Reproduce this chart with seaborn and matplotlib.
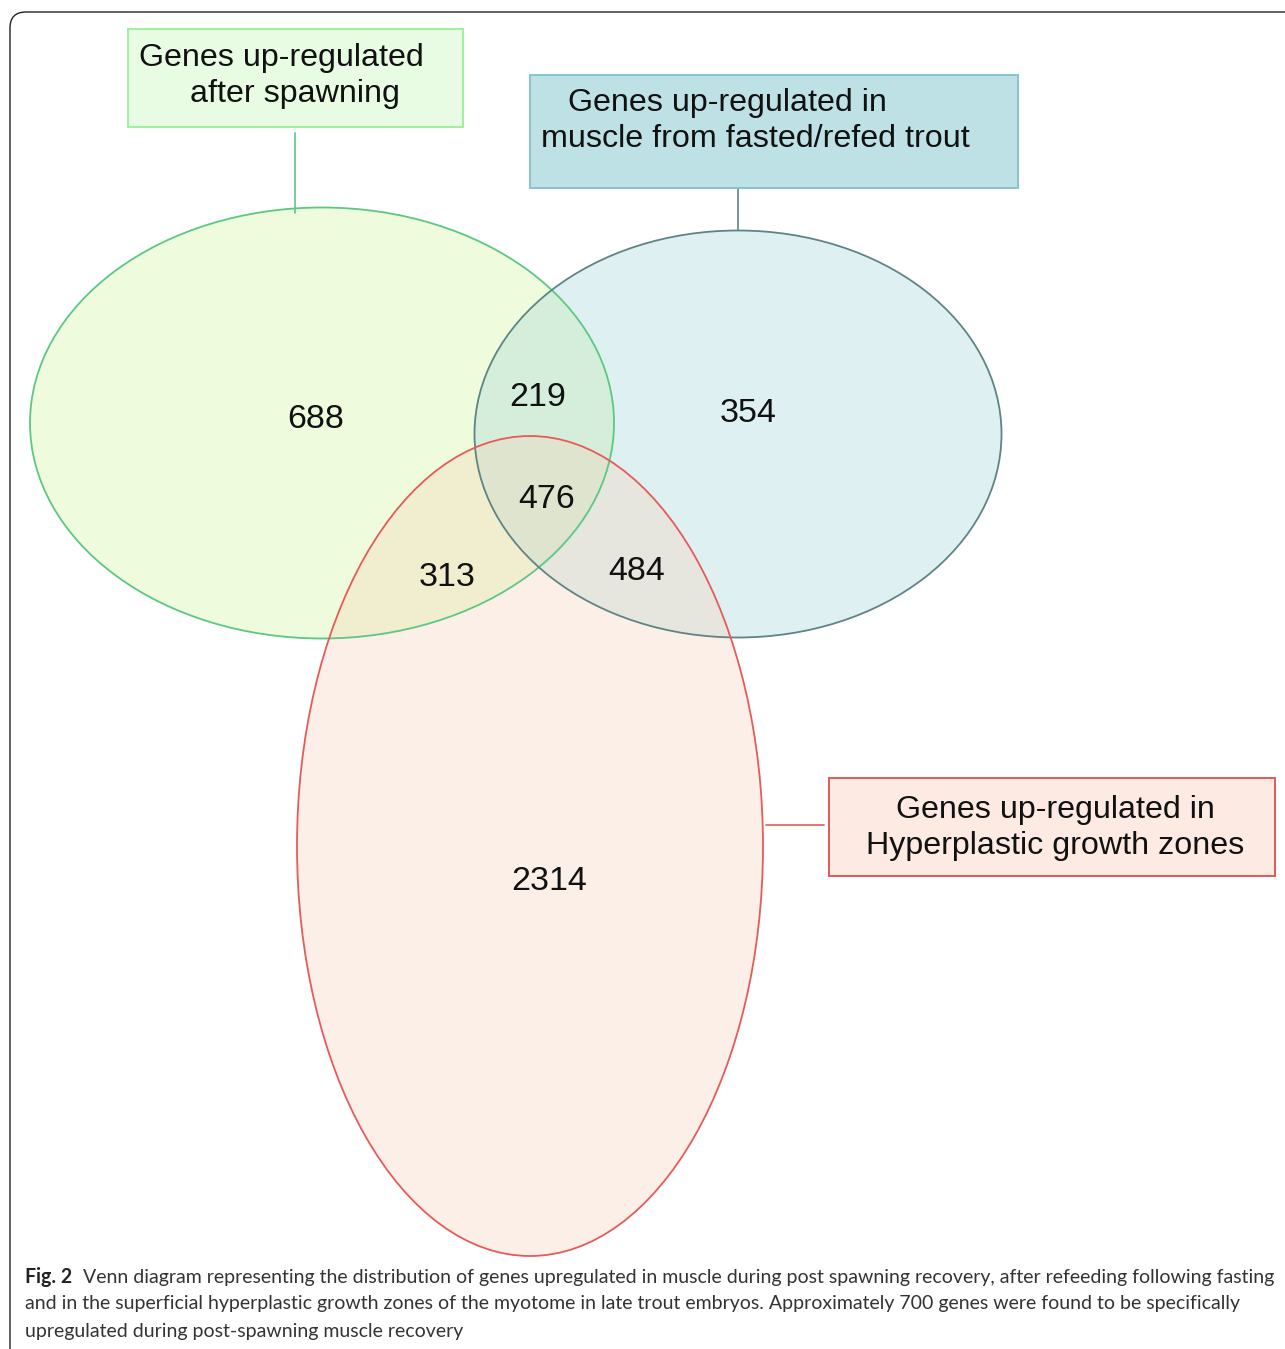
import matplotlib
matplotlib.use("Agg")
import matplotlib.pyplot as plt
import seaborn as sns
from matplotlib.patches import Ellipse, Rectangle, FancyBboxPatch

sns.set_theme(style="white")
plt.rcParams['font.family'] = ['Liberation Sans', 'DejaVu Sans']

# Data
set_names = ["Genes up-regulated\n   after spawning",
             "   Genes up-regulated in\nmuscle from fasted/refed trout",
             "Genes up-regulated in\nHyperplastic growth zones"]
region_names = ["S only", "S&F", "F only", "S&F&H", "S&H", "F&H", "H only"]
region_counts = [688, 219, 354, 476, 313, 484, 2314]

caption_bold = "Fig. 2"
caption_lines = [
    "Venn diagram representing the distribution of genes upregulated in muscle during post spawning recovery, after refeeding following fasting",
    "and in the superficial hyperplastic growth zones of the myotome in late trout embryos. Approximately 700 genes were found to be specifically",
    "upregulated during post-spawning muscle recovery",
]

# Layout (pixel coords, y down)
ellipses = [  # cx, cy, w, h
    (322, 423, 584, 431),
    (738, 434, 527, 407),
    (530, 846, 466, 820),
]
fill_cols = ["#c8f58f", "#98d0d8", "#f8cdb0"]
edge_cols = ["#5cc882", "#5f8484", "#e85a5a"]
fill_alpha = 0.3

region_xy = [(316, 420), (538, 397), (748, 414), (547, 499),
             (447, 577), (637, 572), (549, 882)]

boxes = [  # x0, y0, x1, y1
    (128, 29, 463, 127),
    (530, 75, 1018, 188),
    (829, 778, 1275, 876),
]
box_fill = ["#e8fce4", "#bde1e5", "#fdebe3"]
box_edge = ["#9ef09e", "#86c4cc", "#e05a5a"]
box_text_xy = [(281, 76, "center"), (541, 121, "left"), (1055, 828, "center")]
connectors = [((295, 295), (133, 213)), ((738, 738), (188, 230)), ((766, 824), (825, 825))]

fig = plt.figure(figsize=(12.85, 13.49), dpi=100)
ax = fig.add_axes([0, 0, 1, 1])
ax.set_xlim(0, 1285)
ax.set_ylim(1349, 0)
ax.axis("off")

# page frame
frame = FancyBboxPatch((10, 12), 1400, 1500, boxstyle="round,pad=0,rounding_size=16",
                       fill=False, edgecolor="#222222", linewidth=1.0, zorder=0)
ax.add_patch(frame)

for (cx, cy, w, h), fc in zip(ellipses, fill_cols):
    ax.add_patch(Ellipse((cx, cy), w, h, facecolor=fc, alpha=fill_alpha,
                         edgecolor="none", zorder=1))
for (cx, cy, w, h), ec in zip(ellipses, edge_cols):
    ax.add_patch(Ellipse((cx, cy), w, h, facecolor="none", edgecolor=ec,
                         linewidth=1.3, zorder=2))

for (x, y), n in zip(region_xy, region_counts):
    ax.text(x, y, str(n), fontsize=24.5, ha="center", va="center", color="#111111", zorder=3)

for (x0, y0, x1, y1), fc, ec in zip(boxes, box_fill, box_edge):
    ax.add_patch(Rectangle((x0, y0), x1 - x0, y1 - y0, facecolor=fc, edgecolor=ec,
                           linewidth=1.4, zorder=3))
for (x, y, ha), name in zip(box_text_xy, set_names):
    ax.text(x, y, name, fontsize=23.2, ha=ha, va="center", color="#111111",
            linespacing=1.3, zorder=4)
for (xs, ys), ec in zip(connectors, edge_cols):
    ax.plot(xs, ys, color=ec, linewidth=1.2, zorder=2)

# caption, sized so the first line ends where the reference does
cap_font = ['Lato', 'Liberation Sans', 'DejaVu Sans']
cap_size = 16
cap_right = 1274
head = ax.text(25, 1277, caption_bold, fontsize=cap_size, fontweight="bold", family=cap_font,
               ha="left", va="center", color="#222222")
body = []
for i, line in enumerate(caption_lines):
    body.append(ax.text(25, 1277 + 27 * i, line, fontsize=cap_size, family=cap_font,
                        ha="left", va="center", color="#333333"))

r = fig.canvas.get_renderer()
inv = ax.transData.inverted()
for _ in range(3):
    hx1 = inv.transform(head.get_window_extent(r).get_points())[1][0]
    body[0].set_x(hx1 + 11)
    wb = body[0].get_window_extent(r).width
    new_size = body[0].get_fontsize() * (cap_right - (hx1 + 11)) / wb
    for t in body + [head]:
        t.set_fontsize(new_size)
hx1 = inv.transform(head.get_window_extent(r).get_points())[1][0]
body[0].set_x(hx1 + 11)

fig.savefig("out.png", dpi=100)
